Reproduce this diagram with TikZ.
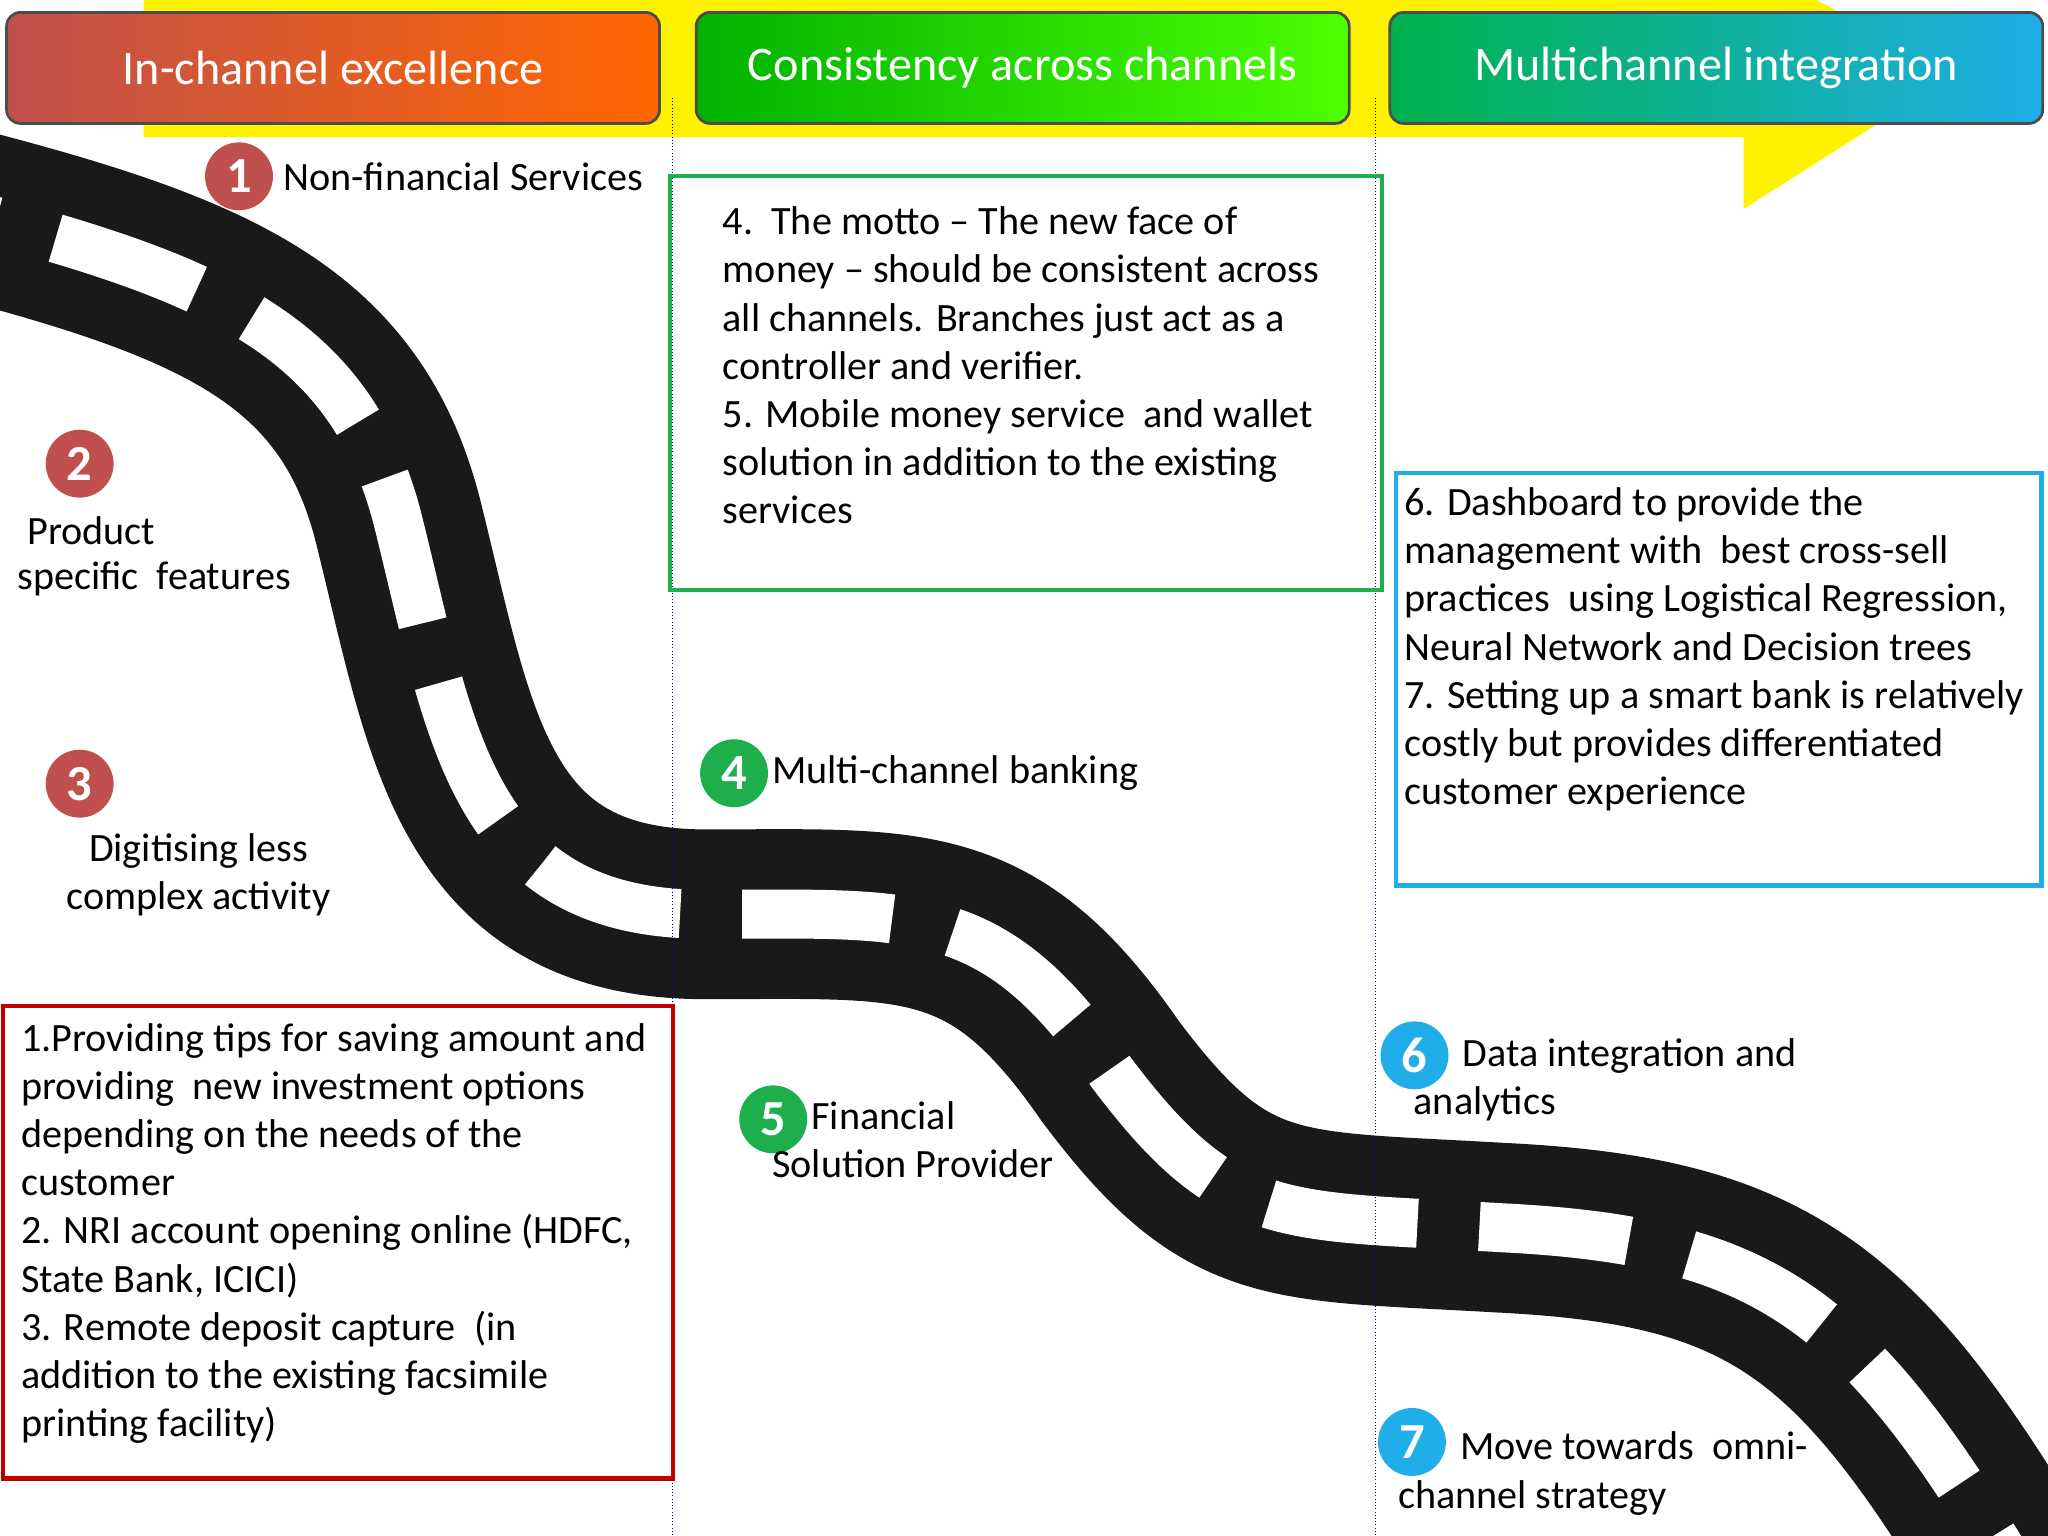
\documentclass[tikz,border=0pt]{standalone}
\usepackage{fontspec}
\setmainfont{Carlito}
\usetikzlibrary{positioning}
\definecolor{numred}{HTML}{C0504D}
\definecolor{numgreen}{HTML}{1EAE4B}
\definecolor{numblue}{HTML}{1FAEE8}
\definecolor{boxred}{HTML}{C00000}
\definecolor{boxgreen}{HTML}{1EAE4B}
\definecolor{boxblue}{HTML}{1FAEE8}
\begin{document}
\begin{tikzpicture}[
    x=0.02cm, y=-0.02cm,
    every node/.style={font=\fontsize{17.5}{21}\selectfont, inner sep=0pt},
    num/.style={circle, minimum size=1.04cm, text=white, font=\fontsize{22}{22}\selectfont\bfseries},
    head/.style={rounded corners=6pt, draw=black!70, line width=1.2pt, minimum width=10cm, minimum height=1.7cm, text=white, font=\fontsize{21}{24}\selectfont},
    txt/.style={anchor=north west, align=left},
    sep/.style={draw=blue!60!black, densely dotted, thin}
]
    \useasboundingbox (0,0) rectangle (1568,1176);
    % banner arrow
    \fill[yellow] (110,0) -- (1390,0) -- (1500,55) -- (1335,160) -- (1335,105) -- (110,105) -- cycle;
    % headers
    \node[head, left color=numred, right color=orange!80!red] (h1) at (255,52) {In-channel excellence};
    \node[head, left color=green!70!black, right color=green!60!lime] (h2) at (783,52) {Consistency across channels};
    \node[head, left color=teal!60!green, right color=numblue] (h3) at (1314,52) {Multichannel integration};
    % road
    \def\roadpath{(-20,165) .. controls (170,215) and (270,260) .. (305,400)
        .. controls (345,560) and (360,700) .. (540,700)
        .. controls (700,700) and (760,690) .. (850,820)
        .. controls (940,940) and (980,930) .. (1150,940)
        .. controls (1350,950) and (1420,1000) .. (1540,1200)}
    \draw[line width=2.6cm, black!90] \roadpath;
    \draw[line width=0.75cm, white, dash pattern=on 2.3cm off 0.95cm, dash phase=-1.3cm] \roadpath;
    % separators
    \draw[sep] (515,75) -- (515,1176);
    \draw[sep] (1053,75) -- (1053,1176);
    % boxes
    \draw[boxgreen, line width=1.8pt] (513,135) rectangle (1058,452);
    \draw[numblue, line width=1.8pt] (1069,362) rectangle (1563,678);
    \draw[boxred, line width=1.8pt] (2,770) rectangle (515,1132);
    \node[txt] (t45) at (553,158) {4.\ \ The motto -- The new face of\\money -- should be consistent across\\all channels. Branches just act as a\\controller and verifier.\\5. Mobile money service\ \ and wallet\\solution in addition to the existing\\services};
    \node[txt] (t67) at (1075,373) {6. Dashboard to provide the\\management with\ \ best cross-sell\\practices\ \ using Logistical Regression,\\Neural Network and Decision trees\\7. Setting up a smart bank is relatively\\costly but provides differentiated\\customer experience};
    \node[txt] (t123) at (16,783) {1.Providing tips for saving amount and\\providing\ \ new investment options\\depending on the needs of the\\customer\\2. NRI account opening online (HDFC,\\State Bank, ICICI)\\3. Remote deposit capture\ \ (in\\addition to the existing facsimile\\printing facility)};
    % milestones
    \node[num, fill=numred] (n1) at (183,135) {1};
    \node[right=0.15cm of n1] (l1) {Non-financial Services};
    \node[num, fill=numred] (n2) at (61,355) {2};
    \node (l2a) at (70,406) {Product};
    \node (l2b) at (118,443) {specific\ \ features};
    \node[num, fill=numred] (n3) at (61,600) {3};
    \node[align=center] (l3) at (152,670) {Digitising less\\complex activity};
    \node[num, fill=numgreen] (n4) at (562,592) {4};
    \node[right=0.05cm of n4] (l4) {Multi-channel banking};
    \node[num, fill=numgreen] (n5) at (592,857) {5};
    \node[txt] (l5) at (591,843) {\hspace*{0.6cm}Financial\\Solution Provider};
    \node[num, fill=numblue] (n6) at (1083,808) {6};
    \node[txt] (l6) at (1082,795) {\hspace*{0.75cm}Data integration and\\analytics};
    \node[num, fill=numblue] (n7) at (1081,1104) {7};
    \node[txt] (l7) at (1070,1096) {\hspace*{0.95cm}Move towards\ \ omni-\\channel strategy};
\end{tikzpicture}
\end{document}
